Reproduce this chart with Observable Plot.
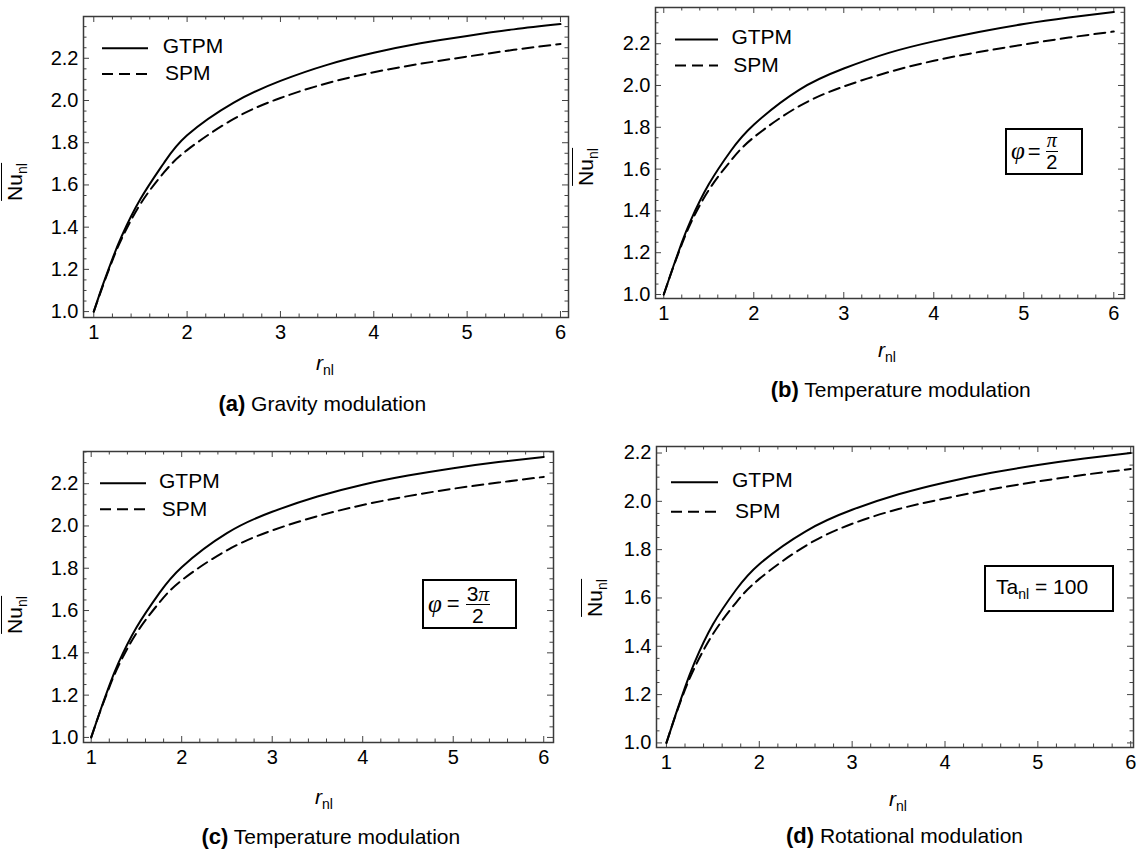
<!DOCTYPE html>
<html><head><meta charset="utf-8">
<script src="https://cdn.jsdelivr.net/npm/d3@7"></script>
<script src="https://cdn.jsdelivr.net/npm/@observablehq/plot@0.6"></script>
<style>
body{margin:0;background:#fff;color:#000;font-family:"Liberation Sans",Arial,sans-serif}
#root{position:relative;width:1137px;height:851px;overflow:hidden;background:#fff}
.abs{position:absolute;white-space:nowrap;line-height:1}
.panel{position:absolute}
.serif{font-family:"Liberation Serif","Times New Roman",serif;font-style:italic}
.frac{display:inline-flex;flex-direction:column;align-items:center}
.frac .num{border-bottom:1px solid #000;padding:0 1px;line-height:21px;height:21px}
.frac .den{line-height:21px;height:21px}
.box{position:absolute;box-sizing:border-box;border:2px solid #000;display:flex;align-items:center;font-size:21px;line-height:1}
</style></head>
<body><div id="root"></div>
<script>
// ---- data ----
const rValues = [1, 1.1, 1.2, 1.3, 1.5, 1.75, 2, 2.5, 3, 3.5, 4, 4.5, 5, 5.5, 6];
const gtpmA = [1.0, 1.13, 1.25, 1.358, 1.533, 1.703, 1.835, 1.99, 2.093, 2.169, 2.226, 2.271, 2.306, 2.337, 2.362];
const spmA  = [1.0, 1.125, 1.243, 1.346, 1.51, 1.658, 1.765, 1.913, 2.012, 2.082, 2.134, 2.174, 2.208, 2.24, 2.268];
const gtpmB = [1.0, 1.127, 1.248, 1.355, 1.527, 1.69, 1.812, 1.978, 2.081, 2.156, 2.211, 2.256, 2.294, 2.325, 2.352];
const spmB  = [1.0, 1.125, 1.24, 1.342, 1.5, 1.643, 1.752, 1.9, 1.995, 2.064, 2.118, 2.16, 2.196, 2.229, 2.258];
const gtpmC = [1.0, 1.126, 1.245, 1.351, 1.52, 1.681, 1.805, 1.966, 2.067, 2.139, 2.195, 2.238, 2.273, 2.302, 2.326];
const spmC  = [1.0, 1.124, 1.237, 1.337, 1.493, 1.636, 1.743, 1.885, 1.979, 2.046, 2.099, 2.141, 2.176, 2.205, 2.232];
const gtpmD = [1.0, 1.118, 1.23, 1.33, 1.49, 1.634, 1.74, 1.876, 1.965, 2.029, 2.078, 2.118, 2.15, 2.177, 2.2];
const spmD  = [1.0, 1.116, 1.22, 1.309, 1.45, 1.581, 1.679, 1.816, 1.907, 1.968, 2.012, 2.05, 2.082, 2.11, 2.134];

const gtpmSeries = [gtpmA, gtpmB, gtpmC, gtpmD];
const spmSeries = [spmA, spmB, spmC, spmD];
const seriesNames = ["GTPM", "SPM"];
const xTickValues = [1, 2, 3, 4, 5, 6];
const yTickValues = [1.0, 1.2, 1.4, 1.6, 1.8, 2.0, 2.2];
const panelLetters = ["(a)", "(b)", "(c)", "(d)"];
const captionTexts = ["Gravity modulation", "Temperature modulation", "Temperature modulation", "Rotational modulation"];
const xLabelMain = "r", xLabelSub = "nl";
const yLabelMain = "Nu", yLabelSub = "nl";

// ---- layout ----
const layouts = [
  {left:0,   top:0,   width:575, height:345, mL:83, mR:7,  mT:16, mB:28, xDom:[0.890,6.086], yDom:[0.972,2.398]},
  {left:580, top:0,   width:557, height:330, mL:75, mR:13, mT:7,  mB:32, xDom:[0.908,6.119], yDom:[0.981,2.373]},
  {left:0,   top:430, width:570, height:345, mL:83, mR:17, mT:21, mB:33, xDom:[0.915,6.108], yDom:[0.976,2.352]},
  {left:580, top:430, width:557, height:345, mL:76, mR:4,  mT:16, mB:28, xDom:[0.893,6.03], yDom:[0.981,2.227]}
];
const legendPos = [
  {x0:102, x1:148, y1:48.3, y2:74,   t1:162.7, t2:165},
  {x0:675, x1:718, y1:39.5, y2:65.5, t1:731.4, t2:733.2},
  {x0:100, x1:146, y1:483.3,y2:509.3,t1:159,   t2:161.7},
  {x0:671, x1:718, y1:482.3,y2:511.7,t1:732,   t2:735}
];
const xLabelPos = [{x:316, base:370}, {x:878, base:357}, {x:315, base:804}, {x:889, base:806}];
const yLabelPos = [{x:13, y:182}, {x:584, y:167}, {x:13, y:615}, {x:593, y:598}];
const captionPos = [{x:322.3, y:403}, {x:900.8, y:389}, {x:330.8, y:836}, {x:904.5, y:835}];

const root = document.getElementById("root");
const fontFamily = '"Liberation Sans", Arial, sans-serif';

function frange(a, b, step, skipEvery) {
  const out = [];
  const i0 = Math.ceil(a / step - 1e-9), i1 = Math.floor(b / step + 1e-9);
  for (let i = i0; i <= i1; i++) if (i % skipEvery !== 0) out.push(+(i * step).toFixed(4));
  return out;
}

layouts.forEach((L, i) => {
  const fh = L.height - L.mT - L.mB;
  const fw = L.width - L.mL - L.mR;
  const data = rValues.map((r, k) => ({r, GTPM: gtpmSeries[i][k], SPM: spmSeries[i][k]}));
  const xMinor = frange(L.xDom[0], L.xDom[1], 0.2, 5);
  const yMinor = frange(L.yDom[0], L.yDom[1], 0.05, 4);
  const yMaj = yTickValues.filter(v => v >= L.yDom[0] && v <= L.yDom[1]);
  const tickStroke = "#444";
  const chart = Plot.plot({
    width: L.width, height: L.height,
    marginLeft: L.mL, marginRight: L.mR, marginTop: L.mT, marginBottom: L.mB,
    x: {domain: L.xDom}, y: {domain: L.yDom},
    style: {fontFamily, fontSize: "20px", color: "#000", background: "transparent", overflow: "visible"},
    marks: [
      Plot.axisX({ticks: xTickValues, tickSize: 0, tickPadding: 7, tickFormat: d => String(d), label: null, fontSize: 20, fill: "#000"}),
      Plot.axisY({ticks: yMaj, tickSize: 0, tickPadding: 5, tickFormat: d3.format(".1f"), label: null, fontSize: 20, fill: "#000"}),
      Plot.tickX(xTickValues, {insetTop: fh - 6, stroke: tickStroke}),
      Plot.tickX(xTickValues, {insetBottom: fh - 6, stroke: tickStroke}),
      Plot.tickX(xMinor, {insetTop: fh - 3.5, stroke: tickStroke}),
      Plot.tickX(xMinor, {insetBottom: fh - 3.5, stroke: tickStroke}),
      Plot.tickY(yMaj, {insetRight: fw - 6, stroke: tickStroke}),
      Plot.tickY(yMaj, {insetLeft: fw - 6, stroke: tickStroke}),
      Plot.tickY(yMinor, {insetRight: fw - 3.5, stroke: tickStroke}),
      Plot.tickY(yMinor, {insetLeft: fw - 3.5, stroke: tickStroke}),
      Plot.line(data, {x: "r", y: "SPM", stroke: "#000", strokeWidth: 2, strokeDasharray: "11,6", curve: "natural", clip: true}),
      Plot.line(data, {x: "r", y: "GTPM", stroke: "#000", strokeWidth: 2, curve: "natural", clip: true}),
      Plot.frame({stroke: "#3a3a3a", strokeWidth: 1.5})
    ]
  });
  const wrap = document.createElement("div");
  wrap.className = "panel";
  wrap.style.left = L.left + "px";
  wrap.style.top = L.top + "px";
  wrap.appendChild(chart);
  root.appendChild(wrap);

  // x label
  const xl = document.createElement("div");
  xl.className = "abs";
  xl.style.left = xLabelPos[i].x + "px";
  xl.style.top = (xLabelPos[i].base - 17.8) + "px";
  xl.style.fontSize = "21px";
  xl.innerHTML = `<span style="font-style:italic">${xLabelMain}</span><span style="font-size:14px;position:relative;top:5px">${xLabelSub}</span>`;
  root.appendChild(xl);

  // y label (rotated)
  const yl = document.createElement("div");
  yl.className = "abs";
  yl.style.left = yLabelPos[i].x + "px";
  yl.style.top = yLabelPos[i].y + "px";
  yl.style.fontSize = "21px";
  yl.style.transform = "translate(-50%,-50%) rotate(-90deg)";
  yl.innerHTML = `<span style="display:inline-block;border-top:1.5px solid #000;padding-top:2px;line-height:1">${yLabelMain}<span style="font-size:14px;position:relative;top:5px">${yLabelSub}</span></span>`;
  root.appendChild(yl);

  // caption
  const cap = document.createElement("div");
  cap.className = "abs";
  cap.style.left = captionPos[i].x + "px";
  cap.style.top = (captionPos[i].y - 10.3) + "px";
  cap.style.fontSize = "21px";
  cap.style.transform = "translateX(-50%)";
  cap.innerHTML = `<b style="font-size:22px">${panelLetters[i]}</b> ${captionTexts[i]}`;
  root.appendChild(cap);

  // legend texts
  const lp = legendPos[i];
  [[seriesNames[0], lp.t1, lp.y1 - 3], [seriesNames[1], lp.t2, lp.y2 - 1.5]].forEach(([t, x, cy]) => {
    const d = document.createElement("div");
    d.className = "abs";
    d.style.left = x + "px";
    d.style.top = (cy - 10.3) + "px";
    d.style.fontSize = "21px";
    d.textContent = t;
    root.appendChild(d);
  });
});

// legend samples
const ns = "http://www.w3.org/2000/svg";
const ov = document.createElementNS(ns, "svg");
ov.setAttribute("width", 1137); ov.setAttribute("height", 851);
ov.style.position = "absolute"; ov.style.left = "0"; ov.style.top = "0"; ov.style.pointerEvents = "none";
legendPos.forEach(lp => {
  [[lp.y1, null], [lp.y2, "11,6"]].forEach(([y, dash]) => {
    const ln = document.createElementNS(ns, "line");
    ln.setAttribute("x1", lp.x0); ln.setAttribute("x2", lp.x1);
    ln.setAttribute("y1", y); ln.setAttribute("y2", y);
    ln.setAttribute("stroke", "#000"); ln.setAttribute("stroke-width", 2);
    if (dash) ln.setAttribute("stroke-dasharray", dash);
    ov.appendChild(ln);
  });
});
root.appendChild(ov);

// annotation boxes
function box(left, top, w, h, padL, html) {
  const b = document.createElement("div");
  b.className = "box";
  b.style.left = left + "px"; b.style.top = top + "px";
  b.style.width = w + "px"; b.style.height = h + "px";
  b.style.paddingLeft = padL + "px";
  b.innerHTML = html;
  root.appendChild(b);
}
const phiSym = "φ", piSym = "π";
box(1005, 128, 78, 47, 4,
  `<span class="serif" style="font-size:25px;position:relative;top:-1px">${phiSym}</span><span style="margin:0 5px 0 3px;font-size:22px">=</span><span class="frac" style="font-size:20px"><span class="num serif">${piSym}</span><span class="den">2</span></span>`);
box(422, 579, 95, 50, 4,
  `<span class="serif" style="font-size:25px;position:relative;top:-1px">${phiSym}</span><span style="margin:0 6px 0 5px;font-size:22px">=</span><span class="frac" style="font-size:21px"><span class="num">3<span class="serif">${piSym}</span></span><span class="den">2</span></span>`);
box(984, 565, 130, 47, 10,
  `<span style="position:relative;top:-2px">Ta<span style="font-size:14px;position:relative;top:5px">nl</span> = 100</span>`);
</script>
</body></html>
